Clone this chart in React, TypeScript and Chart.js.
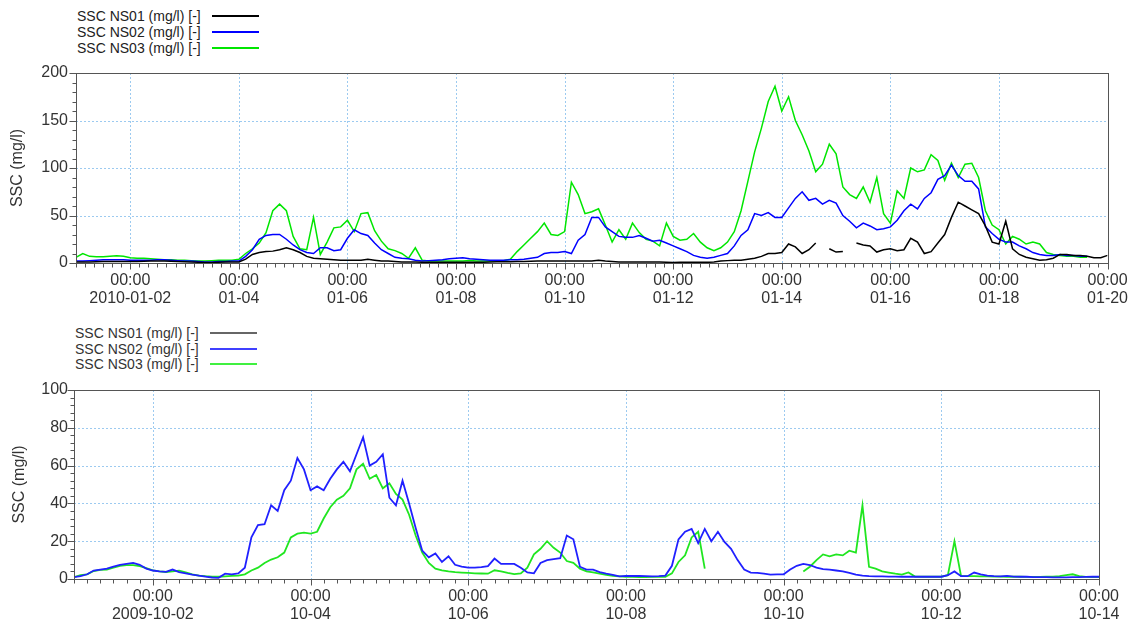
import React, { useEffect, useRef } from 'react';
import { Chart, registerables } from 'chart.js';

Chart.register(...registerables);

// ---------- DATA ----------
// Top panel: 2010-01-01 00:00 .. 2010-01-20 00:00, one value every 3 hours
const TOP_STEP_HOURS = 3;
const TOP_X_MAX_HOURS = 456;
const TOP_TICK_HOURS = [24, 72, 120, 168, 216, 264, 312, 360, 408, 456];
const TOP_TICK_DATES = ['2010-01-02', '01-04', '01-06', '01-08', '01-10', '01-12', '01-14', '01-16', '01-18', '01-20'];

const TOP_NS01: (number | null)[] = [
  1, 1, 1, 1.2, 1.5, 1.5, 1.5, 1.5, 1.5, 1.5, 1.8, 2, 2, 2, 1.8, 1.5, 1.2, 1, 0.8, 0.5, 0.5, 0.8, 1, 1,
  1, 4, 9, 11, 12, 12.5, 14, 16, 14, 11, 7, 5, 4.5, 4, 3.5, 3, 3, 3, 3, 4, 3, 2, 2, 1.5,
  1, 1, 1, 0.8, 0.7, 0.7, 0.7, 0.7, 0.7, 0.7, 0.7, 0.8, 0.8, 1, 1.2, 1.4, 1.4, 1.5, 1.5, 1.8, 2, 2, 2, 2,
  2, 2, 2, 2, 2, 3, 2, 1.5, 1, 1, 1, 1, 1, 1, 1, 0.8, 0.5, 0.7, 0.7, 0.7, 0.7, 0.7, 1, 2,
  2.5, 3, 3, 4, 5, 7, 10, 10, 11, 20, 17, 10, 14, 21, null, 15, 11.5, 12, null, 21, 19, 18, 11.5, 14,
  15, 13, 14, 26, 22, 10, 12, 21, 30, 48, 64, 60, 56, 52, 39, 22, 20, 44, 15, 9, 6, 4.5, 3, 3.5,
  5, 9, 9, 8, 8, 7, 5.5, 5.5, 8,
];

const TOP_NS02: (number | null)[] = [
  2, 2, 2.5, 3, 3.5, 3.5, 3.5, 3.5, 3, 3, 3, 3, 3.5, 3.5, 3, 2.5, 2, 2, 1.5, 1, 1, 1.5, 1.5, 2,
  2, 7, 14, 25, 29, 30, 30, 25, 19, 14, 11, 10, 16, 16, 13, 14, 26, 35, 31, 29, 21, 14, 10, 6,
  5, 4.5, 3, 2, 2.5, 3, 3.5, 4.5, 5, 5.5, 4.5, 4, 3.5, 3, 3, 3, 3.5, 3.5, 4, 5, 6, 10, 11, 11,
  12, 10, 24, 30, 48, 48, 38, 33, 28, 27, 27, 29, 26, 23, 24, 21, 18, 15, 12, 8, 6, 5, 6, 8,
  10, 18, 29, 35, 52, 50, 53, 48, 48, 58, 68, 75, 66, 68, 62, 66, 63, 50, 44, 37, 42, 39, 35, 36,
  38, 45, 55, 62, 57, 68, 74, 88, 92, 103, 92, 86, 86, 78, 38, 31, 25, 22, 22, 18, 15, 11, 9, 8,
  8, 9, 8, 8, 7, 7, null, null, null,
];

const TOP_NS03: (number | null)[] = [
  6, 10, 7, 6.5, 6.5, 7, 7.5, 7, 5.5, 5, 5, 4.5, 4, 3.5, 3.5, 3, 3, 2.5, 2, 2, 2.5, 3, 3, 3,
  4, 10, 15, 21, 32, 55, 62, 55, 28, 15, 14, 48, 9, 22, 37, 38, 45, 33, 52, 53, 34, 23, 15, 13,
  10, 5, 16, 3, 2, 2, 2, 2, 2, 2, 2.5, 2, 2, 2, 2, 2.5, 4, 12, 19, 26, 33, 42, 30, 29,
  33, 85, 72, 52, 54, 57, 40, 22, 35, 25, 42, 32, 25, 23, 18, 42, 28, 24, 25, 31, 22, 16, 13, 16,
  22, 33, 55, 86, 117, 142, 170, 186, 160, 175, 150, 135, 118, 96, 104, 125, 115, 80, 72, 68, 80, 64, 90, 52,
  42, 76, 68, 100, 96, 98, 114, 108, 87, 105, 90, 104, 105, 90, 55, 40, 35, 20, 28, 25, 20, 22, 20, 11,
  9, 8, 7, 7, 6, 6, null, null, null,
];

// Bottom panel: 2009-10-01 00:00 .. 2009-10-14 00:00, one value every 2 hours
const BOTTOM_STEP_HOURS = 2;
const BOTTOM_X_MAX_HOURS = 312;
const BOTTOM_TICK_HOURS = [24, 72, 120, 168, 216, 264, 312];
const BOTTOM_TICK_DATES = ['2009-10-02', '10-04', '10-06', '10-08', '10-10', '10-12', '10-14'];

const BOTTOM_NS02: (number | null)[] = [
  1, 1.5, 2.5, 4.5, 5, 5.5, 6.5, 7.5, 8, 8.5, 7.5, 5.5, 4.5, 4, 3.8, 5, 3.6, 3, 2.3, 1.8, 1.3, 0.8, 0.6, 2.8,
  2.5, 3, 6, 22, 28.5, 29, 39, 36, 47, 52, 64, 58, 47, 49, 47, 53, 58, 62, 57, 66, 75, 60, 62, 66,
  43, 39, 52, 40, 27, 15, 11.5, 13.5, 9, 12, 7.5, 6.5, 6, 6, 6.3, 6.8, 10.8, 8, 8, 8, 6, 3.5, 3, 8.5,
  10, 10.5, 11, 23, 21, 6.5, 5, 5, 3.6, 2.8, 2.2, 1.4, 1.6, 1.6, 1.6, 1.5, 1.4, 1.5, 1.8, 7, 21, 25, 26.5, 19,
  26.5, 20, 25, 19.6, 16, 10, 5, 3.4, 3.2, 2.8, 2.3, 2.4, 2.5, 5, 7, 8, 7.4, 6, 5.2, 5, 4.5, 4, 3.2, 2.3,
  1.8, 1.5, 1.4, 1.4, 1.3, 1.3, 1.2, 1.2, 1.2, 1.2, 1.2, 1.2, 1.2, 2, 4, 1.5, 1.5, 3.4, 2.5, 1.8, 1.5, 1.4, 1.6, 1.3,
  1.2, 1.2, 1, 1, 1, 0.9, 0.9, 0.9, 1, 1, 1.1, 1.2, 1.2,
];

const BOTTOM_NS03: (number | null)[] = [
  1, 2, 2.5, 4.2, 4.8, 5, 6, 7, 7.3, 7.3, 6.8, 5.8, 4.6, 4, 3.7, 4, 4.4, 3.5, 2.5, 1.8, 1.5, 1.3, 1.2, 1.4,
  1.6, 1.8, 2.5, 4.5, 6, 8.5, 10.3, 11.5, 14, 22, 24, 24.5, 24, 25, 32, 38, 42, 44, 48, 58, 61, 53, 55, 48,
  50.6, 45, 42, 34, 23, 14, 8.5, 5.5, 4.6, 4, 3.6, 3.4, 3.2, 3, 2.9, 2.8, 4.6, 4, 3.2, 2.6, 3, 6, 13, 16,
  20, 16.5, 14, 9.5, 8.5, 5.5, 4, 3.5, 2.8, 2.2, 1.6, 1.4, 1.2, 1.1, 1, 1, 1.1, 1.1, 1.2, 3, 9, 12.5, 22, 25,
  5.5, null, null, null, null, null, null, null, null, null, null, null, null, null, null, 4, 6.5, 10, 13, 12, 13, 12.5, 15, 14,
  39, 6.4, 5.5, 4, 3.4, 2.8, 2.3, 3.5, 1.3, 1.2, 1.2, 1.2, 1.2, 2, 20, 1.6, 1.5, 1.5, 1.4, 1.4, 1.3, 1.3, 1.2, 1.2,
  1.2, 1.1, 1.1, 1.1, 1.2, 1.3, 1.5, 2, 2.5, 1.5, 1.1, 1, 1,
];

const SERIES_LABELS = ['SSC NS01 (mg/l) [-]', 'SSC NS02 (mg/l) [-]', 'SSC NS03 (mg/l) [-]'];
const Y_TITLE = 'SSC (mg/l)';

// ---------- STYLE ----------
const FONT = '"Liberation Sans", Arial, Helvetica, sans-serif';
const GRID_COLOR = '#9ccaf0';
const FRAME_COLOR = '#555555';
const TEXT_COLOR = '#333333';

type Series = { data: (number | null)[]; color: string; width: number };

type PanelProps = {
  top: number;
  height: number;
  padTop: number;
  padRight: number;
  yWidth: number;
  xHeight: number;
  titlePad: number;
  step: number;
  xMax: number;
  xMinor: number;
  tickHours: number[];
  tickDates: string[];
  yMax: number;
  yStep: number;
  yMinor: number;
  yLabelPad: number;
  series: Series[];
};

function Panel(p: PanelProps) {
  const ref = useRef<HTMLCanvasElement | null>(null);

  useEffect(() => {
    if (!ref.current) return;
    const decor = {
      id: 'decor',
      beforeDatasetsDraw(chart: any) {
        const { ctx, chartArea: a, scales } = chart;
        const x = scales.x;
        const y = scales.y;
        ctx.save();
        ctx.strokeStyle = GRID_COLOR;
        ctx.lineWidth = 1;
        ctx.setLineDash([2, 2]);
        ctx.beginPath();
        p.tickHours.forEach((h) => {
          if (h <= 0 || h >= p.xMax) return;
          const px = Math.round(x.getPixelForValue(h)) + 0.5;
          ctx.moveTo(px, a.top);
          ctx.lineTo(px, a.bottom);
        });
        for (let v = p.yStep; v < p.yMax; v += p.yStep) {
          const py = Math.round(y.getPixelForValue(v)) + 0.5;
          ctx.moveTo(a.left, py);
          ctx.lineTo(a.right, py);
        }
        ctx.stroke();
        ctx.restore();
      },
      afterDraw(chart: any) {
        const { ctx, chartArea: a, scales } = chart;
        const x = scales.x;
        const y = scales.y;
        ctx.save();
        ctx.strokeStyle = FRAME_COLOR;
        ctx.lineWidth = 1;
        ctx.setLineDash([]);
        const l = Math.round(a.left) + 0.5;
        const t = Math.round(a.top) + 0.5;
        const r = Math.round(a.right) + 0.5;
        const b = Math.round(a.bottom) + 0.5;
        ctx.strokeRect(l, t, r - l, b - t);
        ctx.beginPath();
        for (let h = 0; h <= p.xMax; h += p.xMinor) {
          const major = p.tickHours.includes(h);
          const px = Math.round(x.getPixelForValue(h)) + 0.5;
          ctx.moveTo(px, b);
          ctx.lineTo(px, b + (major ? 6 : 4));
        }
        for (let v = 0; v <= p.yMax; v += p.yMinor) {
          const major = v % p.yStep === 0;
          const py = Math.round(y.getPixelForValue(v)) + 0.5;
          ctx.moveTo(l, py);
          ctx.lineTo(l - (major ? 7 : 4), py);
        }
        ctx.stroke();
        ctx.restore();
      },
    };

    const chart = new Chart(ref.current, {
      type: 'line',
      data: {
        datasets: p.series.map((s, k) => ({
          label: String(k),
          data: s.data.map((v, i) => ({ x: i * p.step, y: v })),
          borderColor: s.color,
          borderWidth: s.width,
          pointRadius: 0,
          fill: false,
          tension: 0,
          spanGaps: false,
        })),
      },
      options: {
        responsive: false,
        animation: false,
        events: [],
        layout: { padding: { left: 0, right: p.padRight, top: p.padTop, bottom: 0 } },
        plugins: { legend: { display: false }, tooltip: { enabled: false }, title: { display: false } },
        scales: {
          x: {
            type: 'linear',
            min: 0,
            max: p.xMax,
            afterBuildTicks: (s: any) => {
              s.ticks = p.tickHours.map((v) => ({ value: v }));
            },
            afterFit: (s: any) => {
              s.height = p.xHeight;
            },
            grid: { display: false, drawTicks: false },
            border: { display: false },
            ticks: {
              autoSkip: false,
              maxRotation: 0,
              minRotation: 0,
              padding: 9,
              color: TEXT_COLOR,
              font: { family: FONT, size: 16, lineHeight: 1.1 },
              callback: (v: any) => {
                const idx = p.tickHours.indexOf(Number(v));
                return idx < 0 ? '' : ['00:00', p.tickDates[idx]];
              },
            },
          },
          y: {
            type: 'linear',
            min: 0,
            max: p.yMax,
            afterFit: (s: any) => {
              s.width = p.yWidth;
            },
            grid: { display: false, drawTicks: false },
            border: { display: false },
            ticks: {
              stepSize: p.yStep,
              padding: p.yLabelPad,
              color: TEXT_COLOR,
              font: { family: FONT, size: 16 },
            },
            title: {
              display: true,
              text: Y_TITLE,
              color: TEXT_COLOR,
              padding: { top: p.titlePad, bottom: 0 },
              font: { family: FONT, size: 16 },
            },
          },
        },
      },
      plugins: [decor],
    } as any);
    return () => chart.destroy();
  }, []);

  return (
    <canvas
      ref={ref}
      width={1137}
      height={p.height}
      style={{ position: 'absolute', left: 0, top: p.top, width: 1137, height: p.height, display: 'block' }}
    />
  );
}

type LegendProps = { left: number; lineLeft: number; centers: number[]; colors: string[]; textColor: string };

function Legend(p: LegendProps) {
  return (
    <>
      {SERIES_LABELS.map((label, i) => (
        <div
          key={'t' + label}
          style={{
            position: 'absolute',
            left: p.left,
            top: p.centers[i] - 8,
            height: 16,
            lineHeight: '16px',
            fontFamily: FONT,
            fontSize: 14,
            color: p.textColor,
            whiteSpace: 'nowrap',
          }}
        >
          {label}
        </div>
      ))}
      {SERIES_LABELS.map((label, i) => (
        <div
          key={'l' + label}
          style={{
            position: 'absolute',
            left: p.lineLeft,
            top: Math.round(p.centers[i]) - 1,
            width: 47,
            height: 2,
            backgroundColor: p.colors[i],
          }}
        />
      ))}
    </>
  );
}

export default function App() {
  return (
    <div style={{ position: 'fixed', left: 0, top: 0, width: 1137, height: 623, background: '#ffffff', overflow: 'hidden' }}>
      <Legend left={77} lineLeft={212} centers={[15.5, 32, 48]} colors={['#000000', '#0000ff', '#00e600']} textColor="#222222" />
      <Panel
        top={0}
        height={310}
        padTop={73}
        padRight={26}
        yWidth={76}
        xHeight={47}
        titlePad={8}
        step={TOP_STEP_HOURS}
        xMax={TOP_X_MAX_HOURS}
        xMinor={4}
        tickHours={TOP_TICK_HOURS}
        tickDates={TOP_TICK_DATES}
        yMax={200}
        yStep={50}
        yMinor={10}
        yLabelPad={8}
        series={[
          { data: TOP_NS01, color: '#000000', width: 1.5 },
          { data: TOP_NS02, color: '#0000ff', width: 1.5 },
          { data: TOP_NS03, color: '#00e600', width: 1.5 },
        ]}
      />
      <Legend left={75} lineLeft={210} centers={[333.3, 349, 364.3]} colors={['#666666', '#4040ff', '#40f040']} textColor="#333333" />
      <Panel
        top={310}
        height={313}
        padTop={80}
        padRight={38}
        yWidth={74}
        xHeight={44}
        titlePad={10}
        step={BOTTOM_STEP_HOURS}
        xMax={BOTTOM_X_MAX_HOURS}
        xMinor={4}
        tickHours={BOTTOM_TICK_HOURS}
        tickDates={BOTTOM_TICK_DATES}
        yMax={100}
        yStep={20}
        yMinor={4}
        yLabelPad={6}
        series={[
          { data: BOTTOM_NS02, color: '#2020ff', width: 1.8 },
          { data: BOTTOM_NS03, color: '#20e620', width: 1.8 },
        ]}
      />
    </div>
  );
}
